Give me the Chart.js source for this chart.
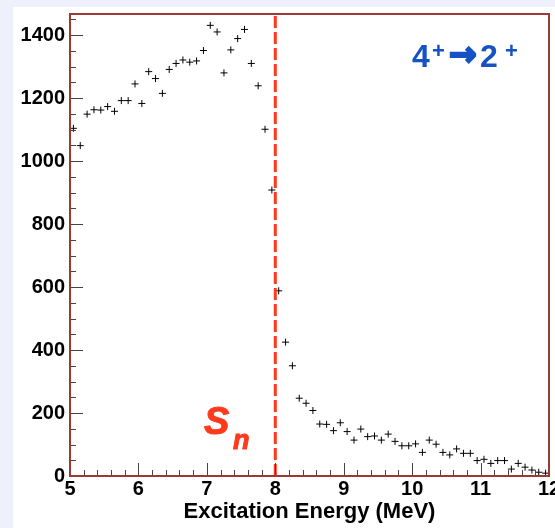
<!DOCTYPE html>
<html>
<head>
<meta charset="utf-8">
<script src="https://cdn.jsdelivr.net/npm/chart.js@4"></script>
<style>
  html, body { margin: 0; padding: 0; background: #eef0fb; }
  #wrap { width: 555px; height: 528px; }
</style>
</head>
<body>
<div id="wrap"><canvas id="chart" width="555" height="528"></canvas></div>
<script>
// bin centres (MeV) and counts
const energies = [
  5.05, 5.15, 5.25, 5.35, 5.45, 5.55, 5.65, 5.75, 5.85, 5.95,
  6.05, 6.15, 6.25, 6.35, 6.45, 6.55, 6.65, 6.75, 6.85, 6.95,
  7.05, 7.15, 7.25, 7.35, 7.45, 7.55, 7.65, 7.75, 7.85, 7.95,
  8.05, 8.15, 8.25, 8.35, 8.45, 8.55, 8.65, 8.75, 8.85, 8.95,
  9.05, 9.15, 9.25, 9.35, 9.45, 9.55, 9.65, 9.75, 9.85, 9.95,
  10.05, 10.15, 10.25, 10.35, 10.45, 10.55, 10.65, 10.75, 10.85, 10.95,
  11.05, 11.15, 11.25, 11.35, 11.45, 11.55, 11.65, 11.75, 11.85, 11.95
];
const counts = [
  1104, 1049, 1149, 1163, 1162, 1173, 1158, 1192, 1192, 1245,
  1183, 1284, 1262, 1215, 1291, 1310, 1321, 1314, 1318, 1351,
  1431, 1410, 1280, 1353, 1389, 1418, 1310, 1239, 1101, 908,
  588, 425, 350, 247, 231, 208, 165, 164, 144, 169,
  141, 114, 149, 125, 127, 114, 133, 110, 96, 96,
  102, 75, 114, 101, 75, 67, 86, 72, 72, 49,
  53, 40, 49, 49, 22, 40, 28, 19, 12, 9
];
const xTicks = [5, 6, 7, 8, 9, 10, 11, 12];
const yTicks = [0, 200, 400, 600, 800, 1000, 1200, 1400];
const sepEnergy = 8;
const xMin = 5, xMax = 12, yMin = 0, yMax = 1467;

const fontFamily = "'Liberation Sans', Arial, Helvetica, sans-serif";
const red = '#ff3a1c';
const blue = '#1652c4';

const points = energies.map((e, i) => ({ x: e, y: counts[i] }));

// background pad, frame, inside ticks and the text labels
const decorPlugin = {
  id: 'decor',
  beforeDraw(chart) {
    const ctx = chart.ctx;
    ctx.save();
    ctx.fillStyle = '#eef0fb';
    ctx.fillRect(0, 0, chart.width, chart.height);
    ctx.fillStyle = '#ffffff';
    ctx.fillRect(13, 7, chart.width - 13, chart.height - 7);
    ctx.restore();
  },
  afterDraw(chart) {
    const ctx = chart.ctx;
    const area = chart.chartArea;
    const xs = chart.scales.x, ys = chart.scales.y;
    ctx.save();

    // ticks drawn inside the frame
    ctx.strokeStyle = '#444';
    ctx.lineWidth = 1;
    ctx.beginPath();
    for (let v = 0; v <= yMax; v += 50) {
      const y = Math.round(ys.getPixelForValue(v)) + 0.5;
      const len = v % 200 === 0 ? 13 : 6;
      ctx.moveTo(area.left, y);
      ctx.lineTo(area.left + len, y);
    }
    for (let k = 0; k <= 35; k++) {
      const v = xMin + k * 0.2;
      const x = Math.round(xs.getPixelForValue(v)) + 0.5;
      const len = k % 5 === 0 ? 13 : 6;
      ctx.moveTo(x, area.bottom);
      ctx.lineTo(x, area.bottom - len);
    }
    ctx.stroke();

    // frame
    ctx.strokeStyle = '#9a3a32';
    ctx.lineWidth = 2;
    ctx.strokeRect(area.left, area.top, area.right - area.left, area.bottom - area.top);

    // S_n label
    ctx.fillStyle = red;
    ctx.strokeStyle = red;
    ctx.lineWidth = 1;
    ctx.textBaseline = 'alphabetic';
    ctx.textAlign = 'left';
    ctx.font = 'italic bold 38px ' + fontFamily;
    ctx.fillText('S', 204, 434);
    ctx.strokeText('S', 204, 434);
    ctx.font = 'italic bold 27px ' + fontFamily;
    ctx.fillText('n', 233, 449);
    ctx.strokeText('n', 233, 449);

    // transition label
    ctx.fillStyle = blue;
    ctx.strokeStyle = blue;
    ctx.font = 'bold 32px ' + fontFamily;
    ctx.fillText('4', 412, 67);
    ctx.fillText('2', 480, 67);
    ctx.font = 'bold 22px ' + fontFamily;
    ctx.fillText('+', 432, 58);
    ctx.fillText('+', 505, 58);
    ctx.font = 'bold 33px "DejaVu Sans", sans-serif';
    ctx.textBaseline = 'middle';
    ctx.lineWidth = 2.2;
    ctx.fillText('\u2192', 449, 56);
    ctx.strokeText('\u2192', 449, 56);
    ctx.restore();
  }
};

new Chart(document.getElementById('chart'), {
  type: 'scatter',
  data: {
    datasets: [
      {
        type: 'line',
        data: [{ x: sepEnergy, y: yMin }, { x: sepEnergy, y: yMax }],
        borderColor: red,
        borderWidth: 3,
        borderDash: [12, 4],
        pointRadius: 0,
        fill: false
      },
      {
        data: points,
        pointStyle: 'cross',
        pointRadius: 3.5,
        borderColor: '#000',
        borderWidth: 1,
        backgroundColor: '#000'
      }
    ]
  },
  options: {
    responsive: false,
    animation: false,
    devicePixelRatio: 1,
    layout: { padding: { left: 0, top: 14, right: 6, bottom: 0 } },
    plugins: {
      legend: { display: false },
      tooltip: { enabled: false }
    },
    scales: {
      x: {
        type: 'linear',
        min: xMin,
        max: xMax,
        grid: { display: false, drawTicks: false },
        border: { display: false },
        ticks: {
          color: '#000',
          padding: 1,
          font: { family: fontFamily, size: 20, weight: 'bold' },
          callback: v => String(v)
        },
        afterBuildTicks(scale) { scale.ticks = xTicks.map(v => ({ value: v })); },
        afterFit(scale) {
          scale.height = 52;
          scale.paddingLeft = 0;
          scale.paddingRight = 0;
        },
        title: {
          display: true,
          text: 'Excitation Energy (MeV)',
          color: '#000',
          padding: { top: 0, bottom: 3 },
          font: { family: fontFamily, size: 22, weight: 'bold' }
        }
      },
      y: {
        min: yMin,
        max: yMax,
        grid: { display: false, drawTicks: false },
        border: { display: false },
        ticks: {
          color: '#000',
          padding: 5,
          font: { family: fontFamily, size: 20, weight: 'bold' },
          callback: v => String(v)
        },
        afterBuildTicks(scale) { scale.ticks = yTicks.map(v => ({ value: v })); },
        afterFit(scale) {
          scale.width = 70;
          scale.paddingTop = 0;
          scale.paddingBottom = 0;
        }
      }
    }
  },
  plugins: [decorPlugin]
});
</script>
</body>
</html>
